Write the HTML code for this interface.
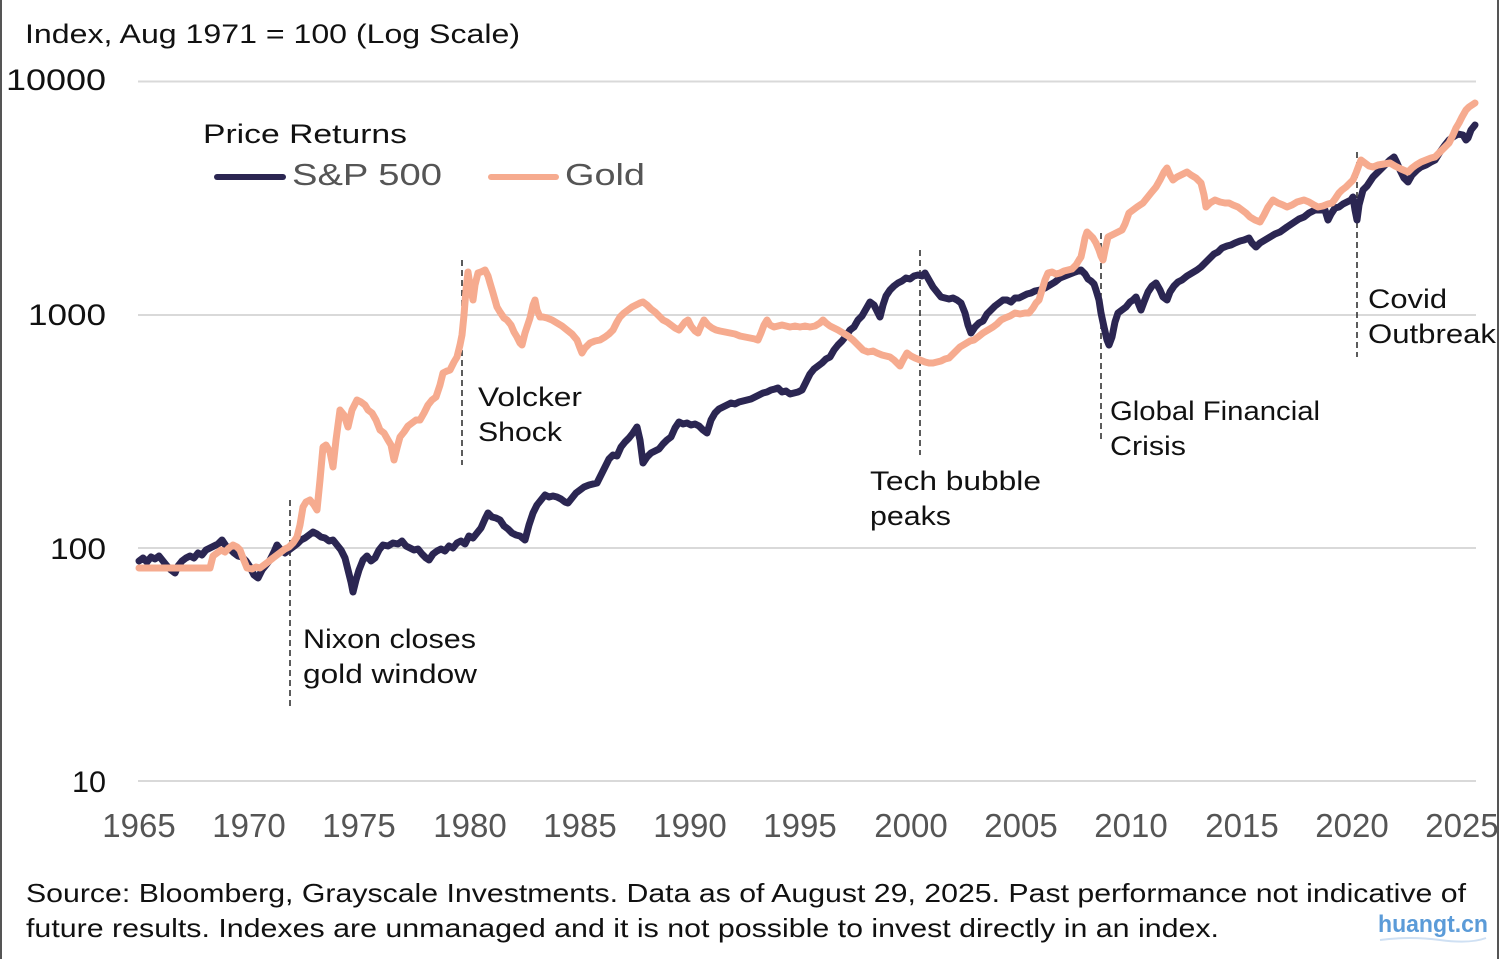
<!DOCTYPE html>
<html><head><meta charset="utf-8"><style>
html,body{margin:0;padding:0;background:#fff;}
svg{display:block;}
text{font-family:"Liberation Sans",sans-serif;}
</style></head><body>
<svg width="1500" height="959" viewBox="0 0 1500 959" xmlns="http://www.w3.org/2000/svg">
<defs><clipPath id="c"><rect x="0" y="0" width="1497" height="959"/></clipPath></defs>
<rect width="1500" height="959" fill="#fff"/>
<g clip-path="url(#c)">
<g stroke="#d9d9d9" stroke-width="2">
<line x1="138" y1="81.5" x2="1476" y2="81.5"/>
<line x1="138" y1="315" x2="1476" y2="315"/>
<line x1="138" y1="548" x2="1476" y2="548"/>
<line x1="138" y1="781" x2="1476" y2="781"/>
</g>
<text x="25" y="43" font-size="27" fill="#111" textLength="495" lengthAdjust="spacingAndGlyphs">Index, Aug 1971 = 100 (Log Scale)</text>
<g font-size="30" fill="#111">
<text x="6" y="90" textLength="100" lengthAdjust="spacingAndGlyphs">10000</text>
<text x="28" y="325" textLength="78" lengthAdjust="spacingAndGlyphs">1000</text>
<text x="50" y="559" textLength="56" lengthAdjust="spacingAndGlyphs">100</text>
<text x="72" y="792" textLength="34" lengthAdjust="spacingAndGlyphs">10</text>
</g>
<g font-size="33" fill="#555" text-anchor="middle">
<text x="139" y="837">1965</text>
<text x="249" y="837">1970</text>
<text x="359" y="837">1975</text>
<text x="470" y="837">1980</text>
<text x="580" y="837">1985</text>
<text x="690" y="837">1990</text>
<text x="800" y="837">1995</text>
<text x="911" y="837">2000</text>
<text x="1021" y="837">2005</text>
<text x="1131" y="837">2010</text>
<text x="1242" y="837">2015</text>
<text x="1352" y="837">2020</text>
<text x="1462" y="837">2025</text>
</g>
<text x="203" y="143" font-size="27" fill="#111" textLength="204" lengthAdjust="spacingAndGlyphs">Price Returns</text>
<line x1="217" y1="177" x2="283" y2="177" stroke="#2b2652" stroke-width="6" stroke-linecap="round"/>
<text x="292" y="185" font-size="31" fill="#555" textLength="150" lengthAdjust="spacingAndGlyphs">S&amp;P 500</text>
<line x1="491" y1="177" x2="556" y2="177" stroke="#f6ab8f" stroke-width="6" stroke-linecap="round"/>
<text x="565" y="185" font-size="31" fill="#555" textLength="80" lengthAdjust="spacingAndGlyphs">Gold</text>
<g stroke="#333" stroke-width="1.6" stroke-dasharray="6,4">
<line x1="290" y1="500" x2="290" y2="706"/>
<line x1="462" y1="260" x2="462" y2="465"/>
<line x1="920" y1="250" x2="920" y2="455"/>
<line x1="1101" y1="233" x2="1101" y2="440"/>
<line x1="1357" y1="152" x2="1357" y2="357"/>
</g>
<g font-size="27" fill="#111">
<text x="303" y="648" textLength="173" lengthAdjust="spacingAndGlyphs">Nixon closes</text>
<text x="303" y="683" textLength="174" lengthAdjust="spacingAndGlyphs">gold window</text>
<text x="478" y="406" textLength="104" lengthAdjust="spacingAndGlyphs">Volcker</text>
<text x="478" y="441" textLength="84" lengthAdjust="spacingAndGlyphs">Shock</text>
<text x="870" y="490" textLength="171" lengthAdjust="spacingAndGlyphs">Tech bubble</text>
<text x="870" y="525" textLength="81" lengthAdjust="spacingAndGlyphs">peaks</text>
<text x="1110" y="420" textLength="210" lengthAdjust="spacingAndGlyphs">Global Financial</text>
<text x="1110" y="455" textLength="76" lengthAdjust="spacingAndGlyphs">Crisis</text>
<text x="1368" y="308" textLength="79" lengthAdjust="spacingAndGlyphs">Covid</text>
<text x="1368" y="343" textLength="128" lengthAdjust="spacingAndGlyphs">Outbreak</text>
</g>
<polyline fill="none" stroke="#2b2652" stroke-width="7" stroke-linejoin="round" stroke-linecap="round" points="139,561 143,558 147,562 151,557 155,559 159,556 163,561 167,566 171,570 175,573 178,566 182,561 186,558 190,556 194,558 198,553 202,555 206,550 210,548 214,546 218,544 222,540 226,546 230,549 234,553 238,556 242,557 246,561 250,567 254,575 258,578 262,570 266,565 270,560 274,552 277,545 281,550 285,553 289,550 293,547 297,544 301,540 305,538 309,535 313,532 317,534 321,537 325,538 329,541 333,540 337,545 341,550 345,558 348,570 351,582 353,592 356,580 359,570 363,560 367,556 371,561 375,558 379,550 383,545 388,546 393,543 398,544 402,541 406,546 410,548 414,550 418,549 422,554 426,558 429,560 433,554 437,551 441,549 445,551 449,546 453,548 457,543 461,541 465,544 469,536 473,538 477,533 481,528 485,519 488,513 492,517 496,518 500,520 504,526 508,529 512,533 516,535 520,536 525,540 529,525 533,513 537,505 541,500 545,495 549,497 553,496 557,497 561,499 565,502 568,503 572,498 576,493 580,490 584,487 589,485 593,484 597,483 601,475 605,467 609,459 613,455 617,456 621,447 625,442 629,438 633,433 637,427 640,440 643,463 647,457 651,453 655,451 659,449 663,444 667,440 671,437 675,428 679,422 683,424 687,423 691,425 695,424 699,426 703,430 707,433 711,420 715,413 719,409 723,407 727,405 731,403 735,404 739,402 743,401 747,400 751,399 755,397 759,395 763,393 767,392 771,390 775,389 778,388 782,392 786,391 790,394 794,393 798,392 802,390 806,382 810,374 814,369 818,366 822,363 826,359 830,357 834,350 838,345 842,341 846,336 850,330 854,327 858,320 862,316 866,309 870,302 874,305 878,313 880,317 883,305 886,296 890,290 894,286 898,283 902,281 906,278 910,279 914,276 918,275 922,276 925,273 929,280 933,287 937,292 941,297 945,298 949,299 953,298 957,300 961,303 965,313 968,325 971,333 975,327 979,323 983,321 987,314 991,310 995,306 999,303 1003,300 1007,300 1011,302 1015,298 1019,298 1023,296 1027,294 1031,293 1035,291 1040,290 1045,288 1050,285 1055,282 1060,278 1065,276 1070,274 1075,272 1081,270 1085,274 1088,279 1091,281 1094,284 1096,290 1099,300 1101,313 1104,327 1107,340 1109,345 1112,337 1115,322 1118,313 1122,310 1126,307 1130,302 1133,300 1136,297 1139,305 1141,310 1144,302 1148,292 1152,286 1156,283 1160,290 1163,297 1167,300 1170,292 1174,286 1178,282 1182,280 1187,276 1192,273 1197,270 1201,267 1205,263 1210,258 1214,254 1218,252 1222,248 1227,246 1231,245 1235,243 1240,241 1244,240 1249,238 1252,243 1256,247 1260,243 1265,240 1270,237 1275,234 1280,232 1287,227 1293,223 1299,219 1304,217 1309,213 1315,210 1320,210 1325,210 1328,220 1331,214 1335,208 1339,207 1343,204 1347,202 1351,200 1353,197 1355,210 1357,220 1359,205 1363,190 1367,186 1373,177 1378,172 1384,166 1390,160 1394,157 1397,163 1400,170 1404,178 1408,182 1412,175 1417,170 1421,167 1426,165 1431,162 1435,160 1440,152 1445,145 1449,140 1453,137 1458,134 1463,135 1466,140 1468,138 1471,130 1475,125"/>
<polyline fill="none" stroke="#f6ab8f" stroke-width="7" stroke-linejoin="round" stroke-linecap="round" points="139,568 210,568 213,556 217,553 221,550 225,552 229,548 233,545 237,547 240,550 243,558 247,568 252,569 256,567 260,568 264,565 268,562 273,558 277,555 281,552 285,549 289,547 293,543 297,537 300,525 303,507 306,502 310,500 314,505 317,510 320,480 323,447 326,445 330,452 333,467 336,440 340,410 344,415 348,427 352,410 357,400 361,402 365,405 368,410 372,413 376,420 380,430 384,433 388,440 391,445 394,460 397,448 400,437 404,432 408,426 412,423 416,420 420,420 424,413 428,405 432,400 436,397 440,385 443,373 447,371 450,370 454,362 457,357 460,345 462,335 464,315 466,290 468,272 470,285 473,300 475,285 478,273 481,272 485,270 488,276 490,283 493,293 497,307 500,312 504,318 507,320 511,325 514,332 517,337 520,343 522,345 525,333 527,327 530,318 533,305 535,300 537,310 540,317 543,317 547,318 552,320 557,323 562,326 567,330 572,334 577,340 580,348 582,353 585,348 590,343 595,341 600,340 605,337 609,334 613,330 617,322 620,317 624,313 628,310 632,307 636,305 640,303 643,302 647,305 651,309 655,312 659,316 663,320 667,322 671,325 675,328 679,330 682,326 685,322 688,320 691,326 695,331 698,333 701,326 704,320 708,325 712,328 716,330 720,331 725,332 730,333 735,334 740,336 745,337 750,338 755,339 758,340 761,333 764,325 767,320 770,325 774,327 778,326 782,325 786,326 790,327 795,326 800,327 805,326 810,327 815,326 820,323 823,320 826,323 830,326 834,328 838,330 843,333 848,336 853,340 858,345 863,350 868,352 873,351 877,353 882,355 886,356 890,357 894,360 897,363 900,366 903,360 907,353 911,356 915,358 920,360 925,362 929,363 933,363 937,362 941,361 945,359 949,358 953,354 957,350 960,347 965,344 970,341 974,340 978,337 983,333 988,330 993,327 997,324 1001,320 1005,318 1010,316 1015,313 1020,314 1025,313 1029,313 1033,308 1036,303 1039,300 1042,290 1045,280 1048,273 1052,272 1056,274 1060,273 1064,271 1068,270 1072,269 1076,265 1079,260 1081,257 1083,248 1085,238 1087,232 1090,235 1093,238 1096,243 1099,250 1101,256 1103,260 1105,250 1108,237 1112,235 1116,233 1120,231 1122,230 1125,224 1129,213 1133,210 1137,207 1143,203 1147,198 1151,193 1156,187 1160,180 1164,172 1167,168 1170,175 1173,180 1177,177 1181,175 1187,172 1191,175 1196,178 1201,183 1204,195 1206,207 1210,203 1215,200 1220,202 1225,203 1229,203 1233,205 1238,207 1242,210 1246,213 1250,217 1255,220 1260,222 1264,215 1268,207 1273,200 1278,203 1283,205 1287,207 1292,205 1297,202 1304,200 1309,202 1314,205 1318,207 1323,206 1328,204 1332,203 1335,199 1339,193 1342,190 1346,187 1350,183 1353,180 1356,173 1359,165 1361,160 1365,163 1369,166 1373,167 1378,165 1384,164 1390,163 1395,166 1401,169 1408,172 1412,168 1416,165 1421,162 1426,160 1431,158 1435,157 1440,152 1445,147 1449,143 1453,135 1456,128 1459,123 1462,117 1466,110 1469,107 1472,105 1475,103"/>
<g font-size="26" fill="#111">
<text x="26" y="902" textLength="1440" lengthAdjust="spacingAndGlyphs">Source: Bloomberg, Grayscale Investments. Data as of August 29, 2025. Past performance not indicative of</text>
<text x="26" y="937" textLength="1193" lengthAdjust="spacingAndGlyphs">future results. Indexes are unmanaged and it is not possible to invest directly in an index.</text>
</g>
<text x="1378" y="932" font-size="24" font-weight="bold" fill="#5b9bd8" textLength="110" lengthAdjust="spacingAndGlyphs">huangt.cn</text>
<path d="M1380,940 Q1410,936 1440,940 T1486,938" fill="none" stroke="#cfe0f3" stroke-width="2"/>
</g>
<line x1="1" y1="0" x2="1" y2="959" stroke="#555" stroke-width="2"/>
<line x1="1498" y1="0" x2="1498" y2="959" stroke="#555" stroke-width="2"/>
</svg>
</body></html>
